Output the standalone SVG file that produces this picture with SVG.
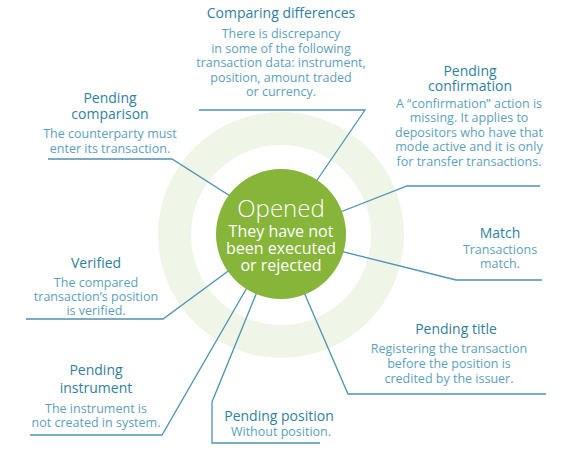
<svg xmlns="http://www.w3.org/2000/svg" width="581" height="450" viewBox="0 0 581 450">
<style>
text{font-family:"Open Sans","Noto Sans","DejaVu Sans",sans-serif;text-anchor:middle}
.t{font-size:14px;fill:#2f7f9f}
.d{font-size:12.5px;fill:#5d9fbd}
.c{fill:#ffffff}
.ln{fill:none;stroke:#4f93b3;stroke-width:1.3}
</style>
<rect width="581" height="450" fill="#ffffff"/>
<g id="ring">
<circle cx="281" cy="235" r="106.5" fill="none" stroke="#eff6e7" stroke-width="33"/>
</g>
<g id="connectors">
<polyline class="ln" points="199,110 365,110 300,205"/>
<polyline class="ln" points="540,186 407,186 320,220"/>
<polyline class="ln" points="320,246 456,280 542,280"/>
<polyline class="ln" points="290,260 348,394 546,394"/>
<polyline class="ln" points="270,260 212,402 212,443 320,443"/>
<polyline class="ln" points="260,265 162,435 30,435"/>
<polyline class="ln" points="250,255 163,319 26,319"/>
<polyline class="ln" points="260,215 172,159 48,159"/>
</g>
<g id="opened">
<circle cx="281" cy="234" r="65" fill="#86b53a"/>
<text class="c" x="281" y="217" font-size="24" font-weight="300">Opened</text>
<text class="c" x="281" y="237" font-size="16">They have not</text>
<text class="c" x="281" y="254" font-size="16">been executed</text>
<text class="c" x="281" y="271" font-size="16">or rejected</text>
</g>
<g id="comparing-differences">
<text class="t" x="281" y="18">Comparing differences</text>
<text class="d" x="281" y="38">There is discrepancy</text>
<text class="d" x="281" y="52.5">in some of the following</text>
<text class="d" x="281" y="67">transaction data: instrument,</text>
<text class="d" x="281" y="81.5">position, amount traded</text>
<text class="d" x="281" y="96">or currency.</text>
</g>
<g id="pending-confirmation">
<text class="t" x="470" y="76">Pending</text>
<text class="t" x="470" y="91">confirmation</text>
<text class="d" x="469" y="107.5">A “confirmation” action is</text>
<text class="d" x="469" y="122">missing. It applies to</text>
<text class="d" x="469" y="136.5">depositors who have that</text>
<text class="d" x="469" y="151">mode active and it is only</text>
<text class="d" x="469" y="165.5">for transfer transactions.</text>
</g>
<g id="pending-comparison">
<text class="t" x="110" y="103">Pending</text>
<text class="t" x="110" y="119">comparison</text>
<text class="d" x="110" y="138">The counterparty must</text>
<text class="d" x="110" y="153">enter its transaction.</text>
</g>
<g id="verified">
<text class="t" x="96" y="268">Verified</text>
<text class="d" x="96" y="287">The compared</text>
<text class="d" x="96" y="301">transaction’s position</text>
<text class="d" x="96" y="315">is verified.</text>
</g>
<g id="pending-instrument">
<text class="t" x="96" y="375">Pending</text>
<text class="t" x="96" y="393">instrument</text>
<text class="d" x="96" y="413">The instrument is</text>
<text class="d" x="96" y="427">not created in system.</text>
</g>
<g id="pending-position">
<text class="t" x="279" y="421">Pending position</text>
<text class="d" x="281" y="436">Without position.</text>
</g>
<g id="match">
<text class="t" x="500" y="238">Match</text>
<text class="d" x="500" y="254">Transactions</text>
<text class="d" x="500" y="268">match.</text>
</g>
<g id="pending-title">
<text class="t" x="456" y="334">Pending title</text>
<text class="d" x="449" y="353">Registering the transaction</text>
<text class="d" x="449" y="368">before the position is</text>
<text class="d" x="449" y="383">credited by the issuer.</text>
</g>
</svg>
